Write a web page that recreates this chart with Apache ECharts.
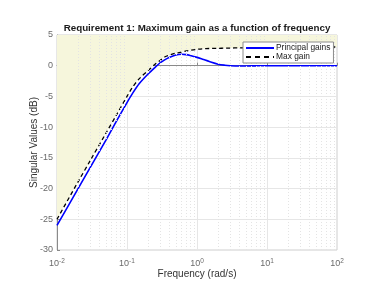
<!DOCTYPE html>
<html>
<head>
<meta charset="utf-8">
<script src="https://cdn.jsdelivr.net/npm/echarts@6/dist/echarts.min.js"></script>
<style>html,body{margin:0;padding:0;background:#fff;}#c{width:374px;height:281px;}</style>
</head>
<body>
<div id="c"></div>
<script>
const freq = [0.01, 0.02, 0.03, 0.05, 0.07, 0.1, 0.12, 0.15, 0.2, 0.25, 0.3, 0.35, 0.4, 0.5, 0.6, 0.7, 0.8, 1.0, 1.2, 1.5, 2, 2.5, 3, 4, 5, 7, 10, 20, 50, 100];
const principalGains = [-26.0, -20.0, -16.5, -12.1, -9.1, -6.0, -4.5, -2.9, -1.35, -0.3, 0.5, 1.0, 1.35, 1.75, 1.87, 1.8, 1.66, 1.36, 1.06, 0.68, 0.25, 0.08, 0.0, -0.05, -0.05, -0.02, 0.0, 0.0, 0.0, 0.0];
const maxGain = [-25.0, -18.9, -15.4, -11.0, -8.1, -5.0, -3.5, -2.1, -0.8, 0.2, 0.9, 1.45, 1.7, 2.05, 2.2, 2.4, 2.52, 2.67, 2.75, 2.8, 2.83, 2.86, 2.88, 2.9, 2.92, 2.94, 2.95, 2.98, 3.0, 3.05];
const yTicks = { min: -30, max: 5, step: 5 };
const xRange = { min: 0.01, max: 100 };
const seriesNames = ['Principal gains', 'Max gain'];

const minorGrid = [];
for (let d = -2; d < 2; d++) for (let k = 2; k <= 9; k++) minorGrid.push({ xAxis: k * Math.pow(10, d) });

const font = 'Liberation Sans, Arial, Helvetica, sans-serif';
const chart = echarts.init(document.getElementById('c'), null, { renderer: 'canvas' });
chart.setOption({
  animation: false,
  title: {
    text: 'Requirement 1: Maximum gain as a function of frequency',
    left: 192, top: 18, textAlign: 'center',
    textStyle: { fontSize: 9.8, fontWeight: 'bold', color: '#1a1a1a', fontFamily: font }
  },
  grid: { left: 57, right: 37, top: 35, bottom: 31, outerBoundsMode: 'none', containLabel: false, show: true, borderColor: '#cfcfcf', borderWidth: 1, backgroundColor: 'transparent' },
  legend: {
    data: [
      { name: seriesNames[0] },
      { name: seriesNames[1], lineStyle: { type: [5, 4] } }
    ],
    z: 20,
    orient: 'vertical', left: 243, top: 42,
    backgroundColor: '#fff', borderColor: '#8c8c8c', borderWidth: 1, borderRadius: 0,
    padding: [2, 3, 2, 2], itemGap: 1, itemWidth: 28, itemHeight: 10,
    itemStyle: { opacity: 0 },
    textStyle: { fontSize: 8.4, color: '#222', fontFamily: font, padding: [0, 0, 0, -3] }
  },
  xAxis: {
    type: 'log', logBase: 10, min: xRange.min, max: xRange.max,
    name: 'Frequency (rad/s)', nameLocation: 'middle', nameGap: 19, nameMoveOverlap: false,
    nameTextStyle: { fontSize: 10, color: '#333', fontFamily: font },
    axisLine: { lineStyle: { color: '#8a8a8a' } },
    axisTick: { inside: true, length: 3, lineStyle: { color: '#8a8a8a' } },
    splitLine: { show: true, lineStyle: { color: '#e6e6e6', width: 1 } },
    axisLabel: {
      margin: 8, color: '#6a6a6a', fontFamily: font,
      formatter: v => '{b|10}{e|' + Math.round(Math.log10(v)) + '}',
      rich: { b: { fontSize: 9, color: '#6a6a6a', fontFamily: font }, e: { fontSize: 6.5, color: '#6a6a6a', fontFamily: font, verticalAlign: 'top', padding: [0, 0, 5, 0] } }
    }
  },
  yAxis: {
    type: 'value', min: yTicks.min, max: yTicks.max, interval: yTicks.step,
    name: 'Singular Values (dB)', nameLocation: 'middle', nameGap: 18, nameMoveOverlap: false,
    nameTextStyle: { fontSize: 10, color: '#333', fontFamily: font },
    axisLine: { show: true, lineStyle: { color: '#8a8a8a' } },
    axisTick: { show: true, inside: true, length: 3, lineStyle: { color: '#8a8a8a' } },
    splitLine: { show: true, lineStyle: { color: '#e6e6e6', width: 1 } },
    axisLabel: { fontSize: 9, color: '#6a6a6a', margin: 4, fontFamily: font }
  },
  series: [
    {
      name: seriesNames[0], type: 'line', z: 3,
      data: freq.map((f, i) => [f, principalGains[i]]),
      showSymbol: false, symbol: 'none', smooth: 0.3,
      lineStyle: { color: '#0000ff', width: 1.6 }, itemStyle: { color: '#0000ff' }
    },
    {
      name: seriesNames[1], type: 'line', z: 4,
      data: freq.map((f, i) => [f, maxGain[i]]),
      showSymbol: false, symbol: 'none', smooth: 0.3,
      lineStyle: { color: '#000', width: 1.3, type: [4, 3] }, itemStyle: { color: '#000' },
      areaStyle: { origin: 'end', color: '#f6f6dc', opacity: 1 }
    },
    {
      type: 'line', data: [], z: 2, silent: true,
      markLine: {
        silent: true, symbol: 'none', label: { show: false },
        lineStyle: { color: '#e4e4e4', type: [1, 2], width: 1 },
        data: minorGrid
      }
    }
  ]
});
</script>
</body>
</html>
